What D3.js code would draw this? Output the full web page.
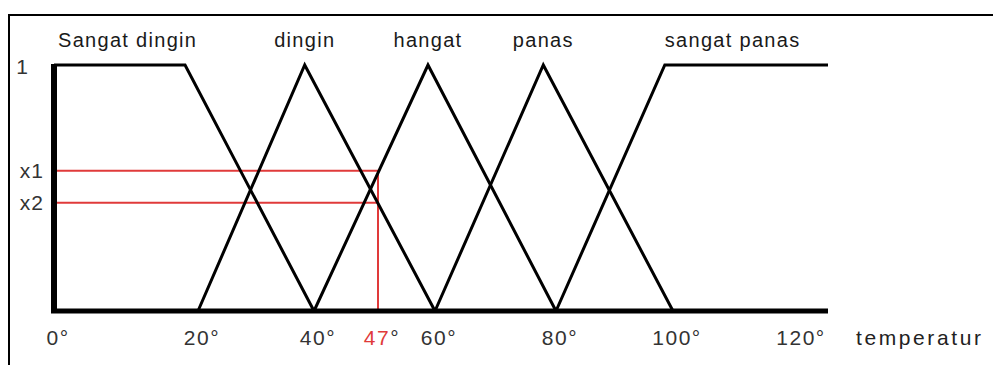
<!DOCTYPE html>
<html>
<head>
<meta charset="utf-8">
<script src="https://cdn.jsdelivr.net/npm/d3@7"></script>
<style>
  body { margin: 0; background: #fff; }
  svg { display: block; }
  text { font-family: "Liberation Sans", Arial, sans-serif; }
</style>
</head>
<body>
<svg id="chart" width="993" height="365"></svg>
<script>
// fuzzy sets for temperature
const setNames = ["Sangat dingin", "dingin", "hangat", "panas", "sangat panas"];
const setTemps = [
  [0, 18.2, 40],
  [20, 38.4, 60],
  [40, 58.4, 80],
  [60, 77.9, 100],
  [80, 98.6, 125]
];
const setDegrees = [
  [1, 1, 0],
  [0, 1, 0],
  [0, 1, 0],
  [0, 1, 0],
  [0, 1, 1]
];
const tickValues = [0, 20, 40, 60, 80, 100, 120];
const inputTemp = 47;
const memberNames = ["x1", "x2"];
const memberValues = [0.57, 0.44];

const svg = d3.select("#chart");

// x positions aren't evenly spaced in the original drawing, so piecewise scale
const x = d3.scaleLinear()
  .domain([0, 20, 40, 47, 60, 80, 100, 120])
  .range([54, 198, 314, 378, 435, 556, 673, 797]);

const y = d3.scaleLinear()
  .domain([0, 1])
  .range([311, 65]);

// frame
svg.append("path")
  .attr("d", "M9,365 V15 H993")
  .attr("fill", "none")
  .attr("stroke", "#000")
  .attr("stroke-width", 2);

// red guide lines
const red = "#e03a3a";
memberValues.forEach(v => {
  svg.append("line")
    .attr("x1", x(0)).attr("x2", x(inputTemp))
    .attr("y1", y(v)).attr("y2", y(v))
    .attr("stroke", red)
    .attr("stroke-width", 2);
});
svg.append("line")
  .attr("x1", x(inputTemp)).attr("x2", x(inputTemp))
  .attr("y1", y(d3.max(memberValues))).attr("y2", y(0))
  .attr("stroke", red)
  .attr("stroke-width", 2);

// membership functions
const line = d3.line()
  .x(d => x(d[0]))
  .y(d => y(d[1]));

svg.selectAll("path.set")
  .data(setTemps.map((t, i) => t.map((v, j) => [v, setDegrees[i][j]])))
  .join("path")
  .attr("class", "set")
  .attr("d", line)
  .attr("fill", "none")
  .attr("stroke", "#000")
  .attr("stroke-width", 3)
  .attr("stroke-linejoin", "miter");

// axes
svg.append("line")
  .attr("x1", x(0)).attr("x2", x(0))
  .attr("y1", y(1) - 1).attr("y2", y(0) + 2)
  .attr("stroke", "#000")
  .attr("stroke-width", 6);
svg.append("line")
  .attr("x1", x(0) - 3).attr("x2", x(125))
  .attr("y1", y(0)).attr("y2", y(0))
  .attr("stroke", "#000")
  .attr("stroke-width", 5);

// set labels
svg.selectAll("text.setname")
  .data(setNames)
  .join("text")
  .attr("class", "setname")
  .attr("x", (d, i) => {
    if (i === 0) return x(setTemps[i][0]) + 4;
    return x(setTemps[i][1]);
  })
  .attr("text-anchor", (d, i) => (i === 0 || i === setNames.length - 1) ? "start" : "middle")
  .attr("y", 47)
  .attr("font-size", 20)
  .attr("letter-spacing", 1.3)
  .attr("fill", "#1a1a1a")
  .text(d => d);

// tick labels
svg.selectAll("text.tick")
  .data(tickValues)
  .join("text")
  .attr("class", "tick")
  .attr("x", d => x(d) + 4)
  .attr("y", 345)
  .attr("text-anchor", "middle")
  .attr("font-size", 21)
  .attr("letter-spacing", 1.5)
  .attr("fill", "#333")
  .text(d => d + "°");

const inp = svg.append("text")
  .attr("x", x(inputTemp) + 4)
  .attr("y", 345)
  .attr("text-anchor", "middle")
  .attr("font-size", 21)
  .attr("letter-spacing", 1.5);
inp.append("tspan").attr("fill", red).text(inputTemp);
inp.append("tspan").attr("fill", "#333").text("°");

svg.append("text")
  .attr("x", 856)
  .attr("y", 345)
  .attr("font-size", 21)
  .attr("fill", "#222")
  .attr("letter-spacing", 2.6)
  .text("temperatur");

// y labels
svg.append("text")
  .attr("x", 28).attr("y", y(1) + 9)
  .attr("text-anchor", "end")
  .attr("font-size", 21)
  .attr("fill", "#333")
  .text("1");
svg.selectAll("text.member")
  .data(memberNames)
  .join("text")
  .attr("class", "member")
  .attr("x", 44)
  .attr("y", (d, i) => y(memberValues[i]) + 7)
  .attr("text-anchor", "end")
  .attr("font-size", 21)
  .attr("letter-spacing", 1)
  .attr("fill", "#333")
  .text(d => d);
</script>
</body>
</html>
